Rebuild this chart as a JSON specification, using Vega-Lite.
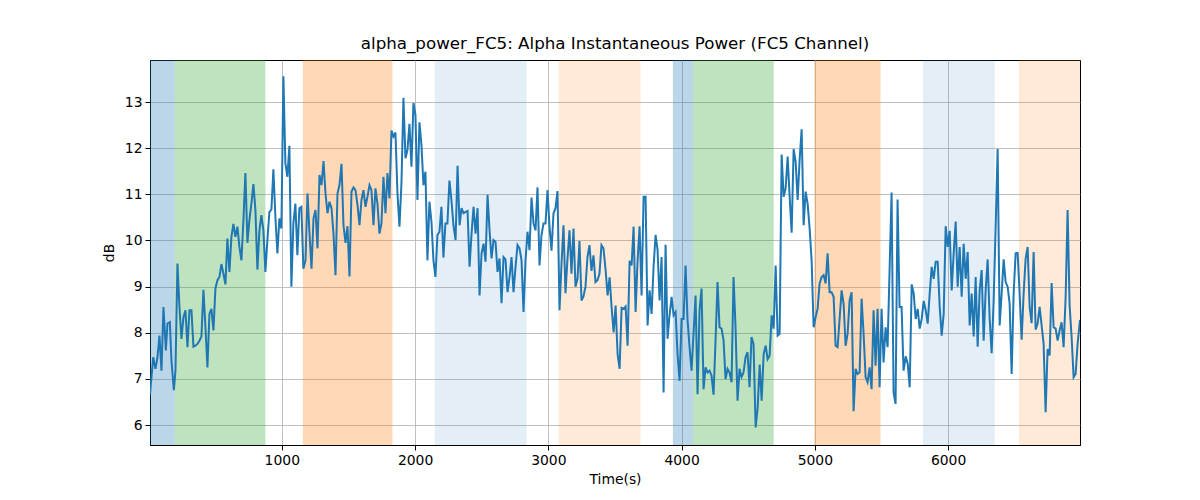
{
  "$schema": "https://vega.github.io/schema/vega-lite/v6.json",
  "width": 930,
  "height": 385,
  "autosize": {"type": "none"},
  "padding": {"left": 150, "top": 60, "right": 120, "bottom": 55},
  "title": {"text": "alpha_power_FC5: Alpha Instantaneous Power (FC5 Channel)", "fontSize": 16.7, "fontWeight": "normal", "font": "DejaVu Sans", "offset": 7, "color": "#000000"},
  "config": {
    "font": "DejaVu Sans",
    "view": {"stroke": "#000000", "strokeWidth": 1},
    "axis": {
      "labelFont": "DejaVu Sans", "labelFontSize": 13.9, "labelColor": "#000000",
      "titleFont": "DejaVu Sans", "titleFontSize": 13.9, "titleFontWeight": "normal", "titleColor": "#000000",
      "domainColor": "#000000", "tickColor": "#000000", "tickSize": 5, "labelPadding": 3,
      "gridColor": "#b0b0b0", "gridWidth": 0.8
    }
  },
  "datasets": {
    "bands": [
      {"start": 11, "end": 197, "condition": "c1"},
      {"start": 197, "end": 877, "condition": "c2"},
      {"start": 1158, "end": 1830, "condition": "c3"},
      {"start": 2148, "end": 2836, "condition": "c4"},
      {"start": 3079, "end": 3692, "condition": "c5"},
      {"start": 3935, "end": 4087, "condition": "c1"},
      {"start": 4087, "end": 4691, "condition": "c2"},
      {"start": 4996, "end": 5493, "condition": "c3"},
      {"start": 5812, "end": 6350, "condition": "c4"},
      {"start": 6532, "end": 6990, "condition": "c5"}
    ],
    "power": [
      {"t":11,"v":6.67},{"t":35,"v":7.47},{"t":52,"v":7.22},{"t":67,"v":7.47},{"t":82,"v":7.94},{"t":97,"v":7.18},{"t":112,"v":8.56},{"t":130,"v":7.62},{"t":142,"v":8.2},{"t":160,"v":8.23},{"t":172,"v":7.4},{"t":190,"v":6.76},{"t":202,"v":7.18},{"t":217,"v":9.5},{"t":232,"v":8.56},{"t":247,"v":7.87},{"t":262,"v":8.34},{"t":277,"v":8.49},{"t":292,"v":7.69},{"t":307,"v":8.49},{"t":322,"v":8.49},{"t":337,"v":7.7},{"t":352,"v":7.72},{"t":367,"v":7.76},{"t":382,"v":7.83},{"t":397,"v":7.92},{"t":412,"v":8.93},{"t":427,"v":8.12},{"t":442,"v":7.25},{"t":457,"v":8.41},{"t":472,"v":8.52},{"t":487,"v":8.05},{"t":502,"v":8.96},{"t":517,"v":9.14},{"t":532,"v":9.21},{"t":547,"v":9.49},{"t":562,"v":9.28},{"t":577,"v":9.05},{"t":592,"v":10.04},{"t":607,"v":9.32},{"t":622,"v":10.08},{"t":637,"v":10.36},{"t":652,"v":10.08},{"t":667,"v":10.3},{"t":682,"v":9.86},{"t":697,"v":9.57},{"t":712,"v":10.44},{"t":727,"v":11.46},{"t":742,"v":9.95},{"t":757,"v":10.44},{"t":772,"v":10.8},{"t":787,"v":11.22},{"t":802,"v":10.66},{"t":817,"v":9.37},{"t":832,"v":10.22},{"t":847,"v":10.55},{"t":862,"v":10.22},{"t":877,"v":9.32},{"t":892,"v":10.01},{"t":907,"v":10.62},{"t":922,"v":10.67},{"t":937,"v":11.54},{"t":952,"v":10.51},{"t":967,"v":9.72},{"t":982,"v":10.48},{"t":997,"v":10.26},{"t":1012,"v":13.56},{"t":1027,"v":11.67},{"t":1042,"v":11.38},{"t":1057,"v":12.05},{"t":1072,"v":9.0},{"t":1087,"v":10.37},{"t":1102,"v":10.8},{"t":1117,"v":9.68},{"t":1132,"v":10.7},{"t":1147,"v":10.73},{"t":1162,"v":9.39},
      {"t":1178,"v":9.57},{"t":1193,"v":11.02},{"t":1208,"v":10.15},{"t":1223,"v":9.39},{"t":1238,"v":10.48},{"t":1253,"v":10.66},{"t":1268,"v":9.83},{"t":1283,"v":11.42},{"t":1298,"v":11.2},{"t":1313,"v":11.72},{"t":1328,"v":11.02},{"t":1343,"v":10.59},{"t":1358,"v":10.84},{"t":1373,"v":10.7},{"t":1388,"v":10.15},{"t":1403,"v":9.25},{"t":1418,"v":11.02},{"t":1433,"v":11.2},{"t":1448,"v":11.66},{"t":1463,"v":10.33},{"t":1478,"v":9.95},{"t":1493,"v":10.31},{"t":1508,"v":9.22},{"t":1523,"v":11.06},{"t":1538,"v":11.15},{"t":1553,"v":11.09},{"t":1568,"v":10.77},{"t":1583,"v":10.33},{"t":1598,"v":10.88},{"t":1613,"v":11.09},{"t":1628,"v":10.73},{"t":1643,"v":10.95},{"t":1658,"v":11.2},{"t":1673,"v":11.09},{"t":1688,"v":10.33},{"t":1703,"v":11.13},{"t":1718,"v":10.8},{"t":1733,"v":10.15},{"t":1748,"v":10.37},{"t":1763,"v":11.38},{"t":1778,"v":10.59},{"t":1793,"v":11.46},{"t":1808,"v":10.91},{"t":1823,"v":12.38},{"t":1838,"v":12.25},{"t":1853,"v":12.34},{"t":1868,"v":11.02},{"t":1883,"v":10.3},{"t":1898,"v":11.24},{"t":1913,"v":13.09},{"t":1928,"v":11.78},{"t":1943,"v":11.96},{"t":1958,"v":12.53},{"t":1973,"v":11.6},{"t":1988,"v":12.98},{"t":2003,"v":12.72},{"t":2018,"v":10.88},{"t":2033,"v":12.56},{"t":2048,"v":12.07},{"t":2063,"v":11.2},{"t":2078,"v":11.49},{"t":2093,"v":9.57},{"t":2108,"v":10.84},{"t":2123,"v":10.41},{"t":2138,"v":9.57},{"t":2153,"v":9.21},{"t":2168,"v":10.12},{"t":2183,"v":10.19},{"t":2198,"v":10.73},{"t":2213,"v":9.63},{"t":2228,"v":10.37},{"t":2243,"v":10.37},{"t":2258,"v":11.3},{"t":2273,"v":10.88},{"t":2288,"v":10.33},
      {"t":2304,"v":10.01},{"t":2319,"v":11.62},{"t":2334,"v":10.33},{"t":2349,"v":10.7},{"t":2364,"v":10.59},{"t":2379,"v":10.62},{"t":2394,"v":10.64},{"t":2409,"v":9.43},{"t":2424,"v":10.15},{"t":2439,"v":10.73},{"t":2454,"v":10.15},{"t":2469,"v":10.7},{"t":2484,"v":8.81},{"t":2499,"v":9.72},{"t":2514,"v":9.93},{"t":2529,"v":9.54},{"t":2544,"v":10.99},{"t":2559,"v":10.22},{"t":2574,"v":9.61},{"t":2589,"v":10.01},{"t":2604,"v":9.97},{"t":2619,"v":9.32},{"t":2634,"v":9.61},{"t":2649,"v":8.64},{"t":2664,"v":9.64},{"t":2679,"v":9.59},{"t":2694,"v":8.88},{"t":2709,"v":9.21},{"t":2724,"v":9.64},{"t":2739,"v":8.88},{"t":2754,"v":9.43},{"t":2769,"v":9.9},{"t":2784,"v":9.83},{"t":2799,"v":9.57},{"t":2814,"v":8.45},{"t":2829,"v":9.57},{"t":2844,"v":10.19},{"t":2859,"v":9.79},{"t":2874,"v":10.93},{"t":2889,"v":10.37},{"t":2904,"v":10.22},{"t":2919,"v":11.15},{"t":2934,"v":9.46},{"t":2949,"v":10.12},{"t":2964,"v":10.37},{"t":2979,"v":10.37},{"t":2994,"v":11.09},{"t":3009,"v":10.3},{"t":3024,"v":9.78},{"t":3039,"v":10.59},{"t":3054,"v":10.7},{"t":3069,"v":11.07},{"t":3084,"v":8.49},{"t":3099,"v":9.49},{"t":3114,"v":10.33},{"t":3129,"v":8.86},{"t":3144,"v":9.61},{"t":3159,"v":10.22},{"t":3174,"v":9.28},{"t":3189,"v":10.26},{"t":3204,"v":9.0},{"t":3219,"v":9.17},{"t":3234,"v":9.99},{"t":3249,"v":8.7},{"t":3264,"v":8.79},{"t":3279,"v":9.0},{"t":3294,"v":9.64},{"t":3309,"v":9.9},{"t":3324,"v":9.34},{"t":3339,"v":9.68},{"t":3354,"v":9.1},{"t":3369,"v":9.14},{"t":3384,"v":9.28},{"t":3399,"v":9.9},{"t":3414,"v":9.83},
      {"t":3430,"v":9.36},{"t":3445,"v":8.81},{"t":3460,"v":9.2},{"t":3475,"v":8.56},{"t":3490,"v":8.01},{"t":3505,"v":8.59},{"t":3520,"v":7.54},{"t":3535,"v":7.22},{"t":3550,"v":8.54},{"t":3565,"v":8.52},{"t":3580,"v":8.57},{"t":3595,"v":7.72},{"t":3610,"v":9.56},{"t":3625,"v":9.46},{"t":3640,"v":10.3},{"t":3655,"v":8.45},{"t":3670,"v":9.57},{"t":3685,"v":10.31},{"t":3700,"v":8.81},{"t":3715,"v":10.95},{"t":3730,"v":10.95},{"t":3745,"v":8.16},{"t":3760,"v":8.92},{"t":3775,"v":8.41},{"t":3790,"v":9.43},{"t":3805,"v":10.12},{"t":3820,"v":9.79},{"t":3835,"v":8.7},{"t":3850,"v":9.64},{"t":3865,"v":6.71},{"t":3880,"v":9.91},{"t":3895,"v":7.87},{"t":3910,"v":8.38},{"t":3925,"v":8.78},{"t":3940,"v":8.38},{"t":3955,"v":8.45},{"t":3970,"v":7.54},{"t":3985,"v":6.96},{"t":4000,"v":8.3},{"t":4015,"v":8.3},{"t":4030,"v":9.46},{"t":4045,"v":8.27},{"t":4060,"v":7.69},{"t":4075,"v":7.18},{"t":4090,"v":7.99},{"t":4105,"v":8.81},{"t":4120,"v":6.67},{"t":4135,"v":8.49},{"t":4150,"v":8.96},{"t":4165,"v":6.78},{"t":4180,"v":7.25},{"t":4195,"v":7.14},{"t":4210,"v":7.18},{"t":4225,"v":7.07},{"t":4240,"v":6.66},{"t":4255,"v":7.83},{"t":4270,"v":9.1},{"t":4285,"v":8.12},{"t":4300,"v":8.09},{"t":4315,"v":7.85},{"t":4330,"v":7.0},{"t":4345,"v":7.22},{"t":4360,"v":7.14},{"t":4375,"v":6.93},{"t":4390,"v":9.21},{"t":4405,"v":8.12},{"t":4420,"v":6.53},{"t":4435,"v":7.22},{"t":4450,"v":7.04},{"t":4465,"v":7.14},{"t":4480,"v":7.47},{"t":4495,"v":7.58},{"t":4510,"v":6.82},{"t":4525,"v":7.91},{"t":4540,"v":7.76},
      {"t":4556,"v":5.95},{"t":4571,"v":6.38},{"t":4586,"v":7.31},{"t":4601,"v":6.53},{"t":4616,"v":7.54},{"t":4631,"v":7.72},{"t":4646,"v":7.43},{"t":4661,"v":7.51},{"t":4676,"v":8.38},{"t":4691,"v":8.09},{"t":4706,"v":9.46},{"t":4721,"v":7.94},{"t":4736,"v":7.98},{"t":4751,"v":11.86},{"t":4766,"v":10.95},{"t":4781,"v":11.13},{"t":4796,"v":11.82},{"t":4811,"v":10.95},{"t":4826,"v":10.17},{"t":4841,"v":11.98},{"t":4856,"v":11.71},{"t":4871,"v":10.88},{"t":4886,"v":11.75},{"t":4901,"v":12.41},{"t":4916,"v":10.33},{"t":4931,"v":11.06},{"t":4946,"v":10.8},{"t":4961,"v":10.26},{"t":4976,"v":9.57},{"t":4991,"v":8.12},{"t":5006,"v":8.34},{"t":5021,"v":8.52},{"t":5036,"v":9.07},{"t":5051,"v":9.21},{"t":5066,"v":9.25},{"t":5081,"v":9.07},{"t":5096,"v":9.72},{"t":5111,"v":8.88},{"t":5126,"v":8.88},{"t":5141,"v":8.78},{"t":5156,"v":7.72},{"t":5171,"v":7.69},{"t":5186,"v":8.3},{"t":5201,"v":8.92},{"t":5216,"v":8.63},{"t":5231,"v":7.72},{"t":5246,"v":7.98},{"t":5261,"v":8.7},{"t":5276,"v":8.88},{"t":5291,"v":6.3},{"t":5306,"v":7.22},{"t":5321,"v":7.11},{"t":5336,"v":7.14},{"t":5351,"v":8.74},{"t":5366,"v":7.98},{"t":5381,"v":7.04},{"t":5396,"v":6.93},{"t":5411,"v":7.25},{"t":5426,"v":6.78},{"t":5441,"v":8.49},{"t":5456,"v":7.29},{"t":5471,"v":8.52},{"t":5486,"v":6.82},{"t":5501,"v":8.52},{"t":5516,"v":7.36},{"t":5531,"v":8.12},{"t":5546,"v":7.69},{"t":5561,"v":9.36},{"t":5576,"v":11.04},{"t":5591,"v":6.71},{"t":5606,"v":6.46},{"t":5621,"v":10.89},{"t":5636,"v":8.56},{"t":5651,"v":8.56},{"t":5666,"v":7.18},
      {"t":5682,"v":7.49},{"t":5697,"v":7.33},{"t":5712,"v":6.82},{"t":5727,"v":9.05},{"t":5742,"v":8.85},{"t":5757,"v":8.3},{"t":5772,"v":8.52},{"t":5787,"v":8.09},{"t":5802,"v":8.3},{"t":5817,"v":8.69},{"t":5832,"v":8.49},{"t":5847,"v":8.2},{"t":5862,"v":8.85},{"t":5877,"v":9.43},{"t":5892,"v":9.17},{"t":5907,"v":9.54},{"t":5922,"v":9.54},{"t":5937,"v":8.57},{"t":5952,"v":7.94},{"t":5967,"v":8.41},{"t":5982,"v":10.31},{"t":5997,"v":9.86},{"t":6012,"v":10.21},{"t":6027,"v":8.92},{"t":6042,"v":9.72},{"t":6057,"v":10.41},{"t":6072,"v":9.0},{"t":6087,"v":9.86},{"t":6102,"v":8.78},{"t":6117,"v":9.93},{"t":6132,"v":9.17},{"t":6147,"v":9.75},{"t":6162,"v":8.16},{"t":6177,"v":8.85},{"t":6192,"v":7.92},{"t":6207,"v":9.21},{"t":6222,"v":7.7},{"t":6237,"v":8.92},{"t":6252,"v":9.36},{"t":6267,"v":7.83},{"t":6282,"v":8.92},{"t":6297,"v":9.59},{"t":6312,"v":8.3},{"t":6327,"v":7.56},{"t":6342,"v":8.7},{"t":6357,"v":10.3},{"t":6372,"v":11.98},{"t":6387,"v":8.16},{"t":6402,"v":8.85},{"t":6417,"v":9.59},{"t":6432,"v":9.1},{"t":6447,"v":9.0},{"t":6462,"v":8.63},{"t":6477,"v":7.11},{"t":6492,"v":8.85},{"t":6507,"v":9.72},{"t":6522,"v":9.73},{"t":6537,"v":8.85},{"t":6552,"v":7.85},{"t":6567,"v":8.85},{"t":6582,"v":9.61},{"t":6597,"v":9.86},{"t":6612,"v":8.56},{"t":6627,"v":8.21},{"t":6642,"v":9.75},{"t":6657,"v":8.07},{"t":6672,"v":8.2},{"t":6687,"v":8.56},{"t":6702,"v":8.16},{"t":6717,"v":7.76},{"t":6732,"v":6.28},{"t":6747,"v":7.65},{"t":6762,"v":7.51},{"t":6777,"v":9.08},{"t":6792,"v":8.12},{"t":6807,"v":8.09},{"t":6822,"v":7.83},{"t":6837,"v":8.05},{"t":6852,"v":8.23},{"t":6867,"v":7.69},{"t":6882,"v":8.76},{"t":6897,"v":10.66},{"t":6912,"v":8.59},{"t":6927,"v":7.91},{"t":6942,"v":7.04},{"t":6957,"v":7.11},{"t":6972,"v":7.76},{"t":6990,"v":8.28}
    ]
  },
  "layer": [
    {
      "data": {"name": "bands"},
      "mark": {"type": "rect", "opacity": 1},
      "encoding": {
        "x": {"field": "start", "type": "quantitative", "scale": {"domain": [11, 6990]}},
        "x2": {"field": "end"},
        "color": {"field": "condition", "type": "nominal", "legend": null,
          "scale": {"domain": ["c1", "c2", "c3", "c4", "c5"],
            "range": ["rgba(31,119,180,0.3)", "rgba(44,160,44,0.3)", "rgba(255,127,14,0.3)", "rgba(31,119,180,0.12)", "rgba(255,127,14,0.16)"]}}
      }
    },
    {
      "data": {"name": "power"},
      "mark": {"type": "line", "color": "#1f77b4", "strokeWidth": 2, "clip": true},
      "encoding": {
        "x": {"field": "t", "type": "quantitative", "title": "Time(s)",
          "scale": {"domain": [11, 6990], "nice": false, "zero": false},
          "axis": {"values": [1000, 2000, 3000, 4000, 5000, 6000], "format": "d", "titlePadding": 6}},
        "y": {"field": "v", "type": "quantitative", "title": "dB",
          "scale": {"domain": [5.57, 13.91], "nice": false, "zero": false},
          "axis": {"values": [6, 7, 8, 9, 10, 11, 12, 13], "titlePadding": 8}}
      }
    }
  ]
}
